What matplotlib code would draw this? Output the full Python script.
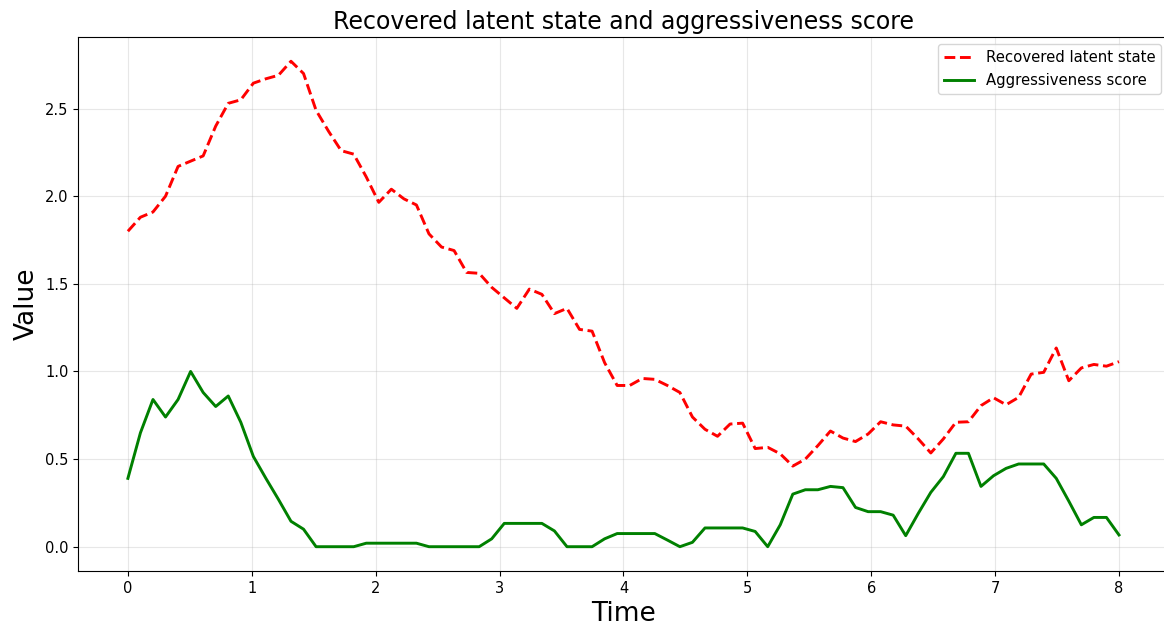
import numpy as np
import matplotlib
matplotlib.use("Agg")
import matplotlib.pyplot as plt

# 80 samples over [0, 8]
t = np.linspace(0, 8, 80)

latent_state = [
    1.80, 1.88, 1.91, 2.00, 2.17, 2.20, 2.23, 2.40, 2.53, 2.55,
    2.645, 2.67, 2.69, 2.77, 2.70, 2.49, 2.37, 2.26, 2.24, 2.11,
    1.965, 2.04, 1.985, 1.95, 1.785, 1.71, 1.69, 1.565, 1.56, 1.48,
    1.42, 1.36, 1.47, 1.44, 1.33, 1.36, 1.24, 1.23, 1.05, 0.92,
    0.92, 0.96, 0.955, 0.92, 0.88, 0.74, 0.67, 0.63, 0.70, 0.705,
    0.56, 0.567, 0.53, 0.46, 0.50, 0.577, 0.66, 0.62, 0.60, 0.643,
    0.713, 0.695, 0.688, 0.615, 0.535, 0.615, 0.71, 0.713, 0.805, 0.85,
    0.81, 0.852, 0.985, 0.995, 1.134, 0.947, 1.02, 1.04, 1.03, 1.056,
]

aggressiveness = [
    0.39, 0.65, 0.84, 0.74, 0.84, 1.00, 0.88, 0.80, 0.86, 0.71,
    0.515, 0.39, 0.27, 0.145, 0.10, 0.0, 0.0, 0.0, 0.0, 0.02,
    0.02, 0.02, 0.02, 0.02, 0.0, 0.0, 0.0, 0.0, 0.0, 0.045,
    0.133, 0.133, 0.133, 0.133, 0.09, 0.0, 0.0, 0.0, 0.045, 0.075,
    0.075, 0.075, 0.075, 0.038, 0.0, 0.025, 0.107, 0.107, 0.107, 0.107,
    0.087, 0.0, 0.125, 0.30, 0.325, 0.325, 0.344, 0.337, 0.224, 0.20,
    0.20, 0.18, 0.063, 0.19, 0.31, 0.40, 0.533, 0.533, 0.344, 0.405,
    0.447, 0.472, 0.472, 0.472, 0.39, 0.26, 0.125, 0.167, 0.167, 0.067,
]

fig = plt.figure(figsize=(11.64, 6.26), dpi=100)
ax = fig.add_axes([0.0673, 0.0879, 0.9366, 0.853])

ax.plot(t, latent_state, "r--", lw=2.1, label="Recovered latent state")
ax.plot(t, aggressiveness, color="green", lw=2.1, label="Aggressiveness score")

ax.set_title("Recovered latent state and aggressiveness score", fontsize=17)
ax.set_xlabel("Time", fontsize=19)
ax.set_ylabel("Value", fontsize=19)
ax.tick_params(labelsize=10.5)
ax.grid(True, alpha=0.3)
ax.legend(loc="upper right", fontsize=10.7)

fig.savefig("out.png", dpi=100)
